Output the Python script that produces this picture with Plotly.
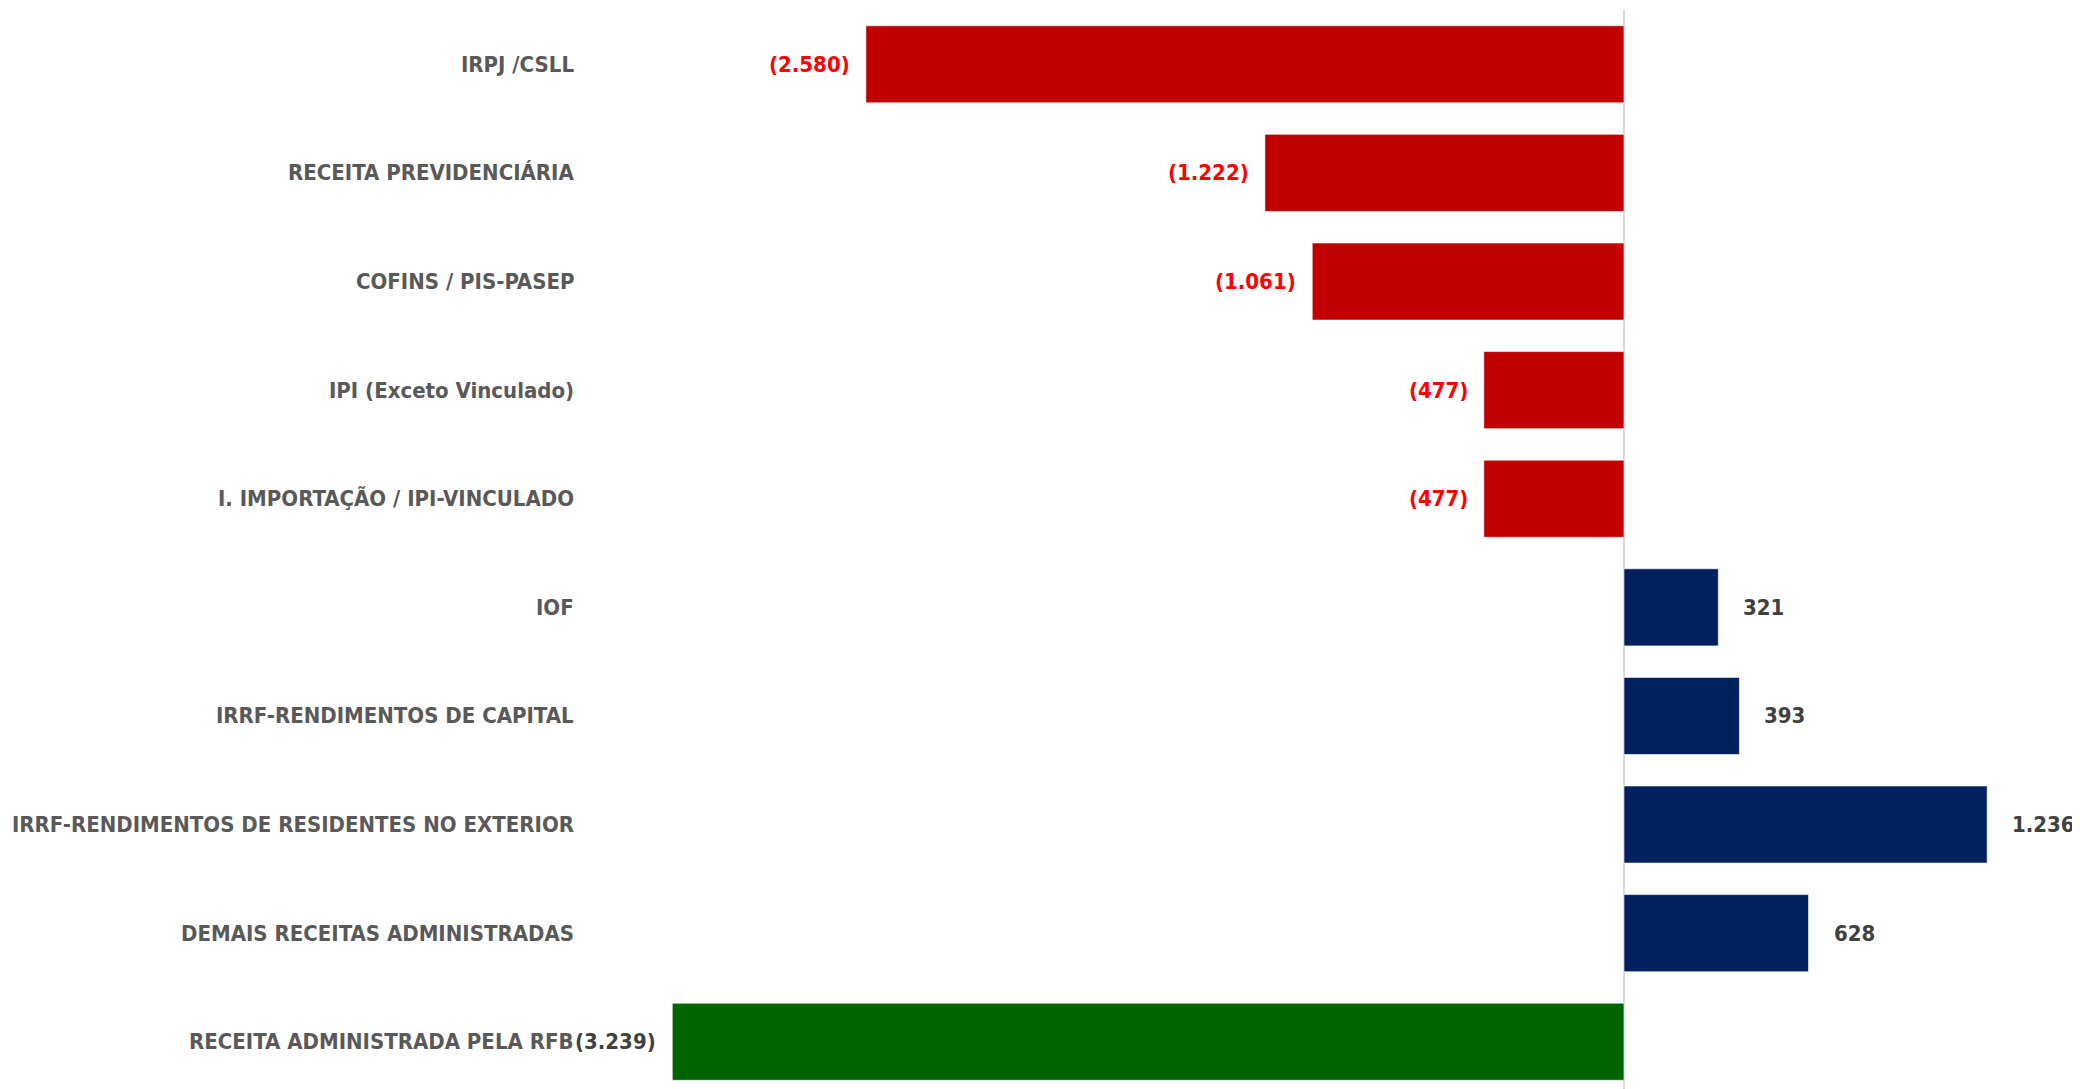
import plotly.graph_objects as go

categories = [
    "IRPJ /CSLL",
    "RECEITA PREVIDENCIÁRIA",
    "COFINS / PIS-PASEP",
    "IPI (Exceto Vinculado)",
    "I. IMPORTAÇÃO / IPI-VINCULADO",
    "IOF",
    "IRRF-RENDIMENTOS DE CAPITAL",
    "IRRF-RENDIMENTOS DE RESIDENTES NO EXTERIOR",
    "DEMAIS RECEITAS ADMINISTRADAS",
    "RECEITA ADMINISTRADA PELA RFB",
]
values = [-2580, -1222, -1061, -477, -477, 321, 393, 1236, 628, -3239]
value_labels = ["(2.580)", "(1.222)", "(1.061)", "(477)", "(477)", "321", "393", "1.236", "628", "(3.239)"]

RED, NAVY, GREEN = "#C00000", "#002060", "#006400"
bar_colors = [GREEN if i == len(values) - 1 else (RED if v < 0 else NAVY) for i, v in enumerate(values)]
label_colors = ["#FF0000" if (v < 0 and i != len(values) - 1) else "#404040" for i, v in enumerate(values)]

FONT = "DejaVu Sans Condensed, Roboto, sans-serif"

fig = go.Figure()
fig.add_trace(go.Bar(
    x=values, y=list(range(len(categories))), orientation="h",
    marker=dict(color=bar_colors, line=dict(color="rgba(255,255,255,0.6)", width=1)),
    width=0.71, hoverinfo="skip",
))

annotations = []
for i, (c, v, lab, col) in enumerate(zip(categories, values, value_labels, label_colors)):
    annotations.append(dict(
        x=0, xref="paper", y=i, yref="y", text=c, showarrow=False,
        xanchor="right", yanchor="middle", xshift=-14,
        font=dict(family=FONT, size=22, color="#595959", weight="bold"),
    ))
    annotations.append(dict(
        x=v, xref="x", y=i, yref="y", text=lab, showarrow=False,
        xanchor="right" if v < 0 else "left", yanchor="middle",
        xshift=-14 if v < 0 else 23,
        font=dict(family=FONT, size=22, color=col, weight="bold"),
    ))

fig.update_layout(
    width=2072, height=1081,
    margin=dict(l=582, r=0, t=2, b=0),
    paper_bgcolor="white", plot_bgcolor="white",
    showlegend=False,
    annotations=annotations,
    font=dict(family=FONT, size=22, color="#595959"),
    xaxis=dict(range=[-3519, 1552], showgrid=False, showticklabels=False, ticks="",
               zeroline=True, zerolinecolor="#D9D9D9", zerolinewidth=2, showline=False),
    yaxis=dict(range=[9.435, -0.5], showgrid=False, showticklabels=False, ticks="",
               zeroline=False, showline=False),
)

fig.write_html("out.html")
